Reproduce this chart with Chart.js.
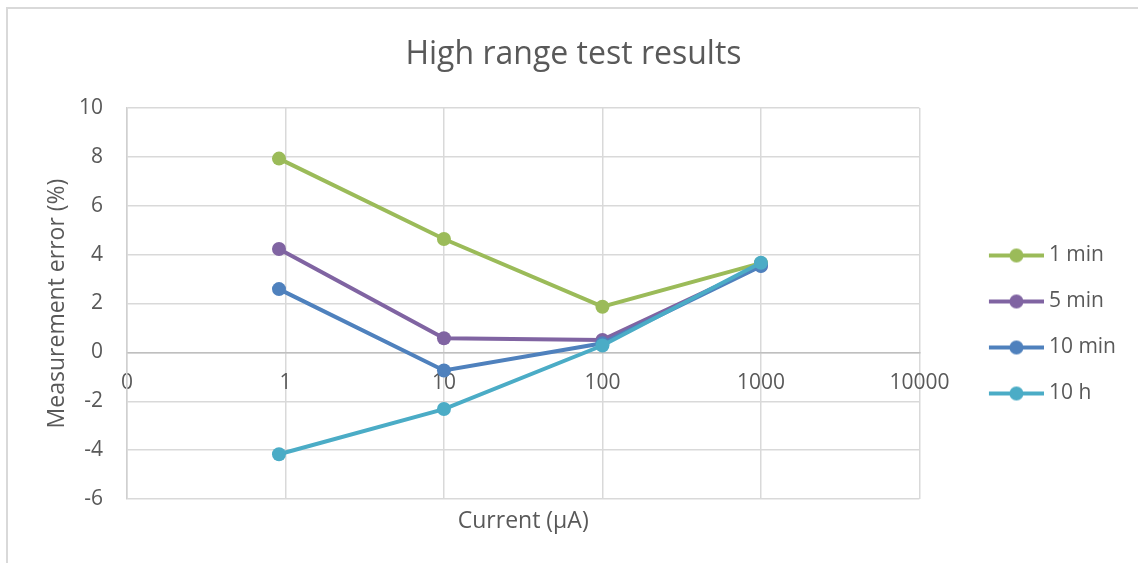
<!DOCTYPE html>
<html>
<head>
<meta charset="utf-8">
<title>High range test results</title>
<script src="https://cdn.jsdelivr.net/npm/chart.js@4.4.1/dist/chart.umd.min.js"></script>
<style>
  html, body { margin: 0; padding: 0; background: #fff; overflow: hidden; }
  #wrap { position: relative; width: 1138px; height: 563px; }
  #frame { position: absolute; left: 6px; top: 7px; width: 1200px; height: 600px;
           border-left: 2px solid #d9d9d9; border-top: 2px solid #d9d9d9; }
  #chart { position: absolute; left: 0; top: 0; }
</style>
</head>
<body>
<div id="wrap">
  <div id="frame"></div>
  <canvas id="chart" width="1138" height="563"></canvas>
</div>
<script>
// Current (µA), log axis
var currents = [0.91, 10, 100, 1000];
var seriesNames = ['1 min', '5 min', '10 min', '10 h'];
var oneMin  = [7.93, 4.64, 1.87, 3.65];
var fiveMin = [4.23, 0.58, 0.51, 3.55];
var tenMin  = [2.59, -0.74, 0.37, 3.53];
var tenHour = [-4.17, -2.32, 0.28, 3.67];
var xTickValues = [0.1, 1, 10, 100, 1000, 10000];
var xTickLabels = ['0', '1', '10', '100', '1000', '10000'];

var colors = ['#9bbb59', '#8064a2', '#4f81bd', '#4bacc6'];
var values = [oneMin, fiveMin, tenMin, tenHour];
var textColor = '#595959';
var fontFamily = '"Open Sans", sans-serif';

Chart.defaults.font.family = fontFamily;
Chart.defaults.color = textColor;

// legend marker: short line with a dot on it
function legendMarker(color) {
  var c = document.createElement('canvas');
  c.width = 105;
  c.height = 18;
  var g = c.getContext('2d');
  g.strokeStyle = color;
  g.lineWidth = 4;
  g.beginPath();
  g.moveTo(50, 9);
  g.lineTo(105, 9);
  g.stroke();
  g.fillStyle = color;
  g.beginPath();
  g.arc(77.5, 9, 7, 0, Math.PI * 2);
  g.fill();
  return c;
}

var datasets = seriesNames.map(function(name, i) {
  return {
    label: name,
    data: currents.map(function(x, j) { return { x: x, y: values[i][j] }; }),
    borderColor: colors[i],
    backgroundColor: colors[i],
    pointBackgroundColor: colors[i],
    pointBorderWidth: 0,
    pointRadius: 7,
    borderWidth: 4,
    tension: 0,
    order: seriesNames.length - i
  };
});

var xTitle = {
  id: 'xTitle',
  afterDraw: function(chart) {
    var ctx = chart.ctx, a = chart.chartArea;
    ctx.save();
    ctx.font = '23px ' + fontFamily;
    ctx.fillStyle = textColor;
    ctx.textAlign = 'center';
    ctx.textBaseline = 'middle';
    ctx.fillText('Current (µA)', (a.left + a.right) / 2, 521);
    ctx.restore();
  }
};

new Chart(document.getElementById('chart'), {
  type: 'line',
  data: { datasets: datasets },
  plugins: [xTitle],
  options: {
    responsive: false,
    animation: false,
    layout: { padding: { left: 21, right: 12, top: 0, bottom: 64 } },
    plugins: {
      title: {
        display: true,
        text: 'High range test results',
        font: { size: 32, weight: 'normal' },
        color: textColor,
        padding: { top: 36, bottom: 33.6 }
      },
      legend: {
        position: 'right',
        fullSize: false,
        title: { display: true, text: '', font: { size: 10 }, padding: { top: 0, bottom: 30 } },
        labels: {
          usePointStyle: true,
          pointStyleWidth: 94,
          padding: 25,
          font: { size: 21 },
          color: textColor,
          generateLabels: function(chart) {
            return chart.data.datasets.map(function(ds, i) {
              return {
                text: ds.label,
                fillStyle: ds.borderColor,
                strokeStyle: ds.borderColor,
                lineWidth: 0,
                pointStyle: legendMarker(ds.borderColor),
                datasetIndex: i,
                fontColor: textColor
              };
            });
          }
        }
      },
      tooltip: { enabled: false }
    },
    scales: {
      x: {
        type: 'logarithmic',
        position: { y: 0 },
        min: 0.1,
        max: 10000,
        afterBuildTicks: function(scale) {
          scale.ticks = xTickValues.map(function(v) { return { value: v }; });
        },
        ticks: {
          autoSkip: false,
          maxRotation: 0,
          padding: 18,
          font: { size: 21 },
          color: textColor,
          callback: function(value, index) { return xTickLabels[index]; }
        },
        grid: { color: '#d9d9d9', lineWidth: 1.5, drawTicks: false },
        border: { color: '#bfbfbf', width: 1.5 }
      },
      y: {
        min: -6,
        max: 10,
        afterFit: function(scale) { scale.width = 127 - 21; },
        ticks: { stepSize: 2, padding: 24, font: { size: 21 }, color: textColor },
        grid: { color: '#d9d9d9', lineWidth: 1.5, drawTicks: false },
        border: { color: '#d0d0d0', width: 1.5 },
        title: {
          display: true,
          text: 'Measurement error (%)',
          font: { size: 23 },
          color: textColor,
          padding: { top: 23, bottom: 0 }
        }
      }
    }
  }
});
</script>
</body>
</html>
